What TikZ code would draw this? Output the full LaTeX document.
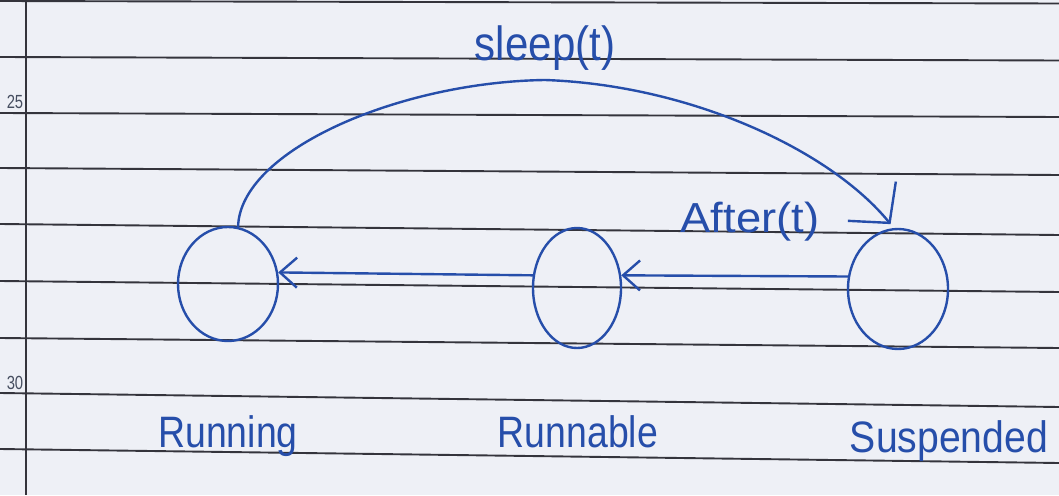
\documentclass[tikz,border=0pt]{standalone}
\usepackage{fontspec}
\usepackage{graphicx}
\newfontfamily\handfont{Liberation Sans}
\usetikzlibrary{shapes.geometric,arrows.meta}
\definecolor{ink}{RGB}{38,78,170}
\definecolor{paper}{RGB}{238,240,246}
\definecolor{rulecol}{RGB}{52,52,60}
\definecolor{margincol}{RGB}{70,78,96}
\begin{document}
\begin{tikzpicture}[x=1pt,y=-1pt,
  state/.style={ellipse, draw=ink, line width=2.4pt, inner sep=0pt},
  link/.style={draw=ink, line width=2.4pt, line cap=round,
    -{Straight Barb[length=17pt,width=30pt]}},
  biglink/.style={draw=ink, line width=2.4pt, line cap=round,
    -{Straight Barb[length=28pt,width=62pt]}},
  lbl/.style={text=ink, anchor=base, inner sep=0pt},
  ruling/.style={draw=rulecol, line width=1.9pt},
  marginline/.style={draw=rulecol, line width=2.2pt},
  pagenum/.style={text=margincol, anchor=base, inner sep=0pt,
    font=\handfont\fontsize{19}{21}\selectfont},
]
\useasboundingbox (0,0) rectangle (1059,495);
\fill[paper] (0,0) rectangle (1059,495);
% paper rulings
\foreach \a/\b in {1/3.5, 57/60.5, 113/117, 168/175, 224/235, 281/292, 338/348, 393/407, 449/463}
  \draw[ruling] (0,\a) -- (1059,\b);
\draw[marginline] (26,0) -- (26,495);
\node[pagenum] (n25) at (15,108) {\scalebox{0.78}[1]{25}};
\node[pagenum] (n30) at (15,389) {\scalebox{0.78}[1]{30}};

% states
\node[state, minimum width=100pt, minimum height=114pt] (run) at (228,284) {};
\node[state, minimum width=88pt, minimum height=120pt] (rnb) at (577,288) {};
\node[state, minimum width=100pt, minimum height=120pt] (susp) at (898,289) {};

% transitions
\draw[link] (rnb.164) -- (run.13);
\draw[link] (susp.166) -- (rnb.16);
\draw[biglink, shorten >=5pt] (run.80) .. controls (240,150) and (400,82) .. (545,80)
  .. controls (690,85) and (830,150) .. (susp.94);

% labels
\node[lbl, font=\handfont\fontsize{48}{54}\selectfont] (lsleep) at (545,60) {\scalebox{0.875}[1]{sleep(t)}};
\node[lbl, font=\handfont\fontsize{42}{48}\selectfont] (lafter) at (750,232) {\scalebox{1.08}[1]{After(t)}};
\node[lbl, font=\handfont\fontsize{44}{50}\selectfont] (lrun) at (228,447) {\scalebox{0.85}[1]{Running}};
\node[lbl, font=\handfont\fontsize{44}{50}\selectfont] (lrnb) at (578,447) {\scalebox{0.85}[1]{Runnable}};
\node[lbl, font=\handfont\fontsize{44}{50}\selectfont] (lsusp) at (949,452) {\scalebox{0.89}[1]{Suspended}};
\end{tikzpicture}
\end{document}
